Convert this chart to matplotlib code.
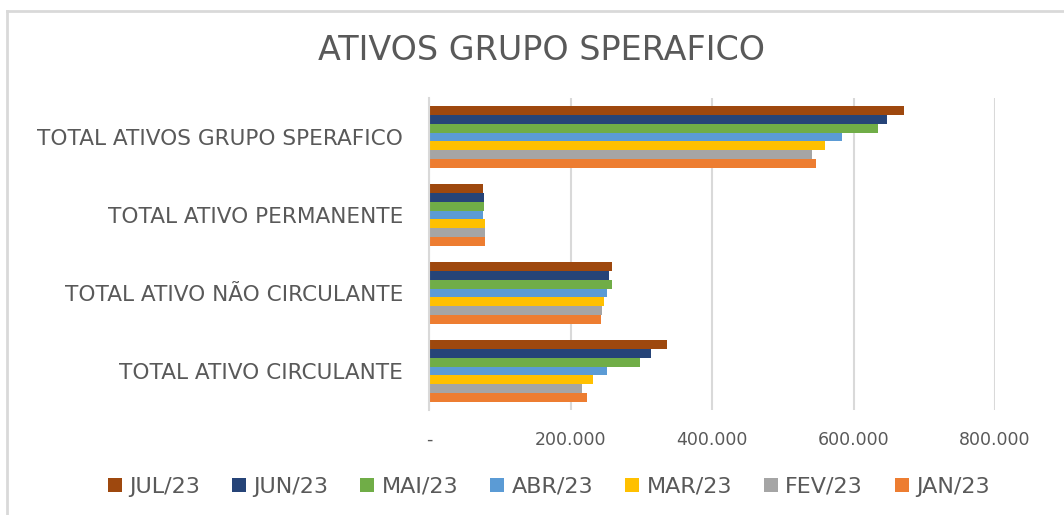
"""Horizontal grouped bars: ATIVOS GRUPO SPERAFICO, Jan-Jul/23."""

import matplotlib.pyplot as plt
import numpy as np
from matplotlib.lines import Line2D
from matplotlib.ticker import FuncFormatter

categories = [
    "TOTAL ATIVO CIRCULANTE",
    "TOTAL ATIVO NÃO CIRCULANTE",
    "TOTAL ATIVO PERMANENTE",
    "TOTAL ATIVOS GRUPO SPERAFICO",
]
# values per month, in the order of categories above
months = ["JUL/23", "JUN/23", "MAI/23", "ABR/23", "MAR/23", "FEV/23", "JAN/23"]
jul = [337000, 259000, 77000, 672000]
jun = [314000, 254000, 78000, 647000]
mai = [298000, 259000, 77500, 634000]
abr = [251000, 251000, 77000, 584000]
mar = [232000, 247000, 79000, 560000]
fev = [216000, 245000, 79000, 542000]
jan = [224000, 243000, 79000, 547000]
series = [jul, jun, mai, abr, mar, fev, jan]
colors = ["#9E480E", "#264478", "#70AD47", "#5B9BD5", "#FFC000", "#A5A5A5", "#ED7D31"]
xticks = [0, 200000, 400000, 600000, 800000]

TEXT = "#595959"
GRID = "#D9D9D9"
FONT = "DejaVu Sans"


def fmt(v, _):
    if v == 0:
        return "-"
    return f"{v:,.0f}".replace(",", ".")


def main() -> None:
    plt.rcParams["font.family"] = [FONT]
    fig = plt.figure(figsize=(10.64, 5.15), dpi=100)
    ax = fig.add_axes([429 / 1064, 1 - 410 / 515, (995 - 429) / 1064, 312 / 515])

    y = np.arange(len(categories))
    n = len(series)
    h = 0.113
    for i, (vals, c, m) in enumerate(zip(series, colors, months)):
        # first series (JUL) sits at the top of each group
        offs = (n - 1) / 2 * h - i * h
        ax.barh(y + offs, vals, height=h, color=c, label=m)

    ax.set_ylim(-0.5, len(categories) - 0.5)
    ax.set_xlim(0, 800000)
    ax.set_xticks(xticks)
    ax.xaxis.set_major_formatter(FuncFormatter(fmt))
    ax.set_yticks(y)
    ax.set_yticklabels(categories)
    ax.grid(axis="x", color=GRID, linewidth=1.5)
    ax.set_axisbelow(True)
    for s in ["top", "right", "bottom"]:
        ax.spines[s].set_visible(False)
    ax.spines["left"].set_color(GRID)
    ax.spines["left"].set_linewidth(1.5)
    ax.tick_params(axis="both", length=0, labelcolor=TEXT)
    ax.tick_params(axis="x", labelsize=12.5, pad=15)
    ax.tick_params(axis="y", labelsize=15.6, pad=18.5)

    fig.text(541 / 1064, 1 - 50 / 515, "ATIVOS GRUPO SPERAFICO", ha="center",
             va="center", fontsize=24, color=TEXT)

    fig.legend(loc="center", bbox_to_anchor=(549 / 1064, 1 - 487 / 515), ncol=7,
               frameon=False, fontsize=16, labelcolor=TEXT, handlelength=0.63,
               handleheight=0.63, handletextpad=0.32, columnspacing=1.45)

    # chart frame (only top and left edges visible in the crop)
    fig.add_artist(Line2D([7 / 1064, 1], [1 - 11 / 515] * 2, color=GRID, lw=2,
                          transform=fig.transFigure))
    fig.add_artist(Line2D([7 / 1064] * 2, [0, 1 - 11 / 515], color=GRID, lw=2,
                          transform=fig.transFigure))

    fig.savefig("out.png", dpi=100, facecolor="white")
    plt.close(fig)


if __name__ == "__main__":
    main()
